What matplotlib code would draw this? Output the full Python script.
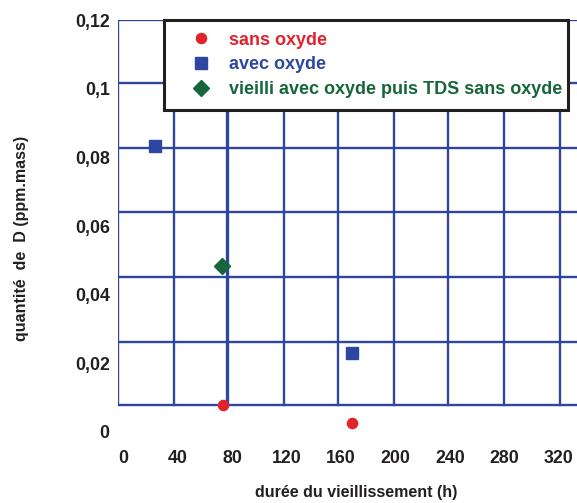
import matplotlib
matplotlib.use("Agg")
import matplotlib.pyplot as plt
from matplotlib.lines import Line2D

plt.rcParams['font.family'] = ['Liberation Sans', 'DejaVu Sans']
plt.rcParams['font.weight'] = 'bold'

# Data
sans_x = [73.6, 167.8]
sans_y = [0.0079, 0.0027]
avec_x = [23.5, 168.0]
avec_y = [0.0833, 0.0230]
vieilli_x = [72.9]
vieilli_y = [0.0484]

x_ticks = [0, 40, 80, 120, 160, 200, 240, 280, 320]
y_ticks = [0, 0.02, 0.04, 0.06, 0.08, 0.10, 0.12]
y_labels = ['0', '0,02', '0,04', '0,06', '0,08', '0,1', '0,12']

# grid as drawn in the original (offset from the tick labels)
grid_x = [-3.7, 37.4, 76.3, 118.2, 157.8, 198.9, 238.5, 279.6, 320.7]
grid_y = [0.0079, 0.0262, 0.0451, 0.0641, 0.0827, 0.1017, 0.12]

W, H = 577, 503
fig = plt.figure(figsize=(W/100, H/100), dpi=100)
ax = fig.add_axes([118/W, 1-432/H, (577-118)/W, (432-20)/H])
ax.set_xlim(-3.67, 333.2)
ax.set_ylim(0, 0.12)
for s in ax.spines.values():
    s.set_visible(False)

gcol = '#2e479c'
ymin_frac = grid_y[0] / 0.12
for i, gx in enumerate(grid_x):
    ax.axvline(gx, ymin=ymin_frac, ymax=1, color=gcol,
               lw=2.4 if i == 2 else 1.7, zorder=1)
for gy in grid_y:
    ax.axhline(gy, color=gcol, lw=1.7, zorder=1)

red = '#e1232b'
blue = '#2d47a0'
green = '#17653a'
ax.plot(sans_x, sans_y, 'o', color=red, ms=7.3, zorder=3, clip_on=False)
ax.plot(avec_x, avec_y, 's', color=blue, ms=8.3, zorder=3, clip_on=False)
ax.plot(vieilli_x, vieilli_y, 'D', color=green, ms=8.3, zorder=3, clip_on=False)

tcol = '#231f20'
ax.set_xticks(x_ticks)
ax.set_xticklabels([str(v) for v in x_ticks])
ax.set_yticks(y_ticks)
ax.set_yticklabels(y_labels)
ax.tick_params(axis='both', length=0, labelsize=12.8, colors=tcol)
ax.tick_params(axis='x', pad=13)
ax.tick_params(axis='y', pad=6)
for lab in ax.get_xticklabels() + ax.get_yticklabels():
    lab.set_fontweight('bold')

fig.text(356/W, 1-493/H, 'durée du vieillissement (h)', ha='center', va='center',
         fontsize=11.5, fontweight='bold', color=tcol)
fig.text(22/W, 1-238/H, 'quantité  de  D (ppm.mass)', ha='center', va='center',
         rotation=90, fontsize=11.5, fontweight='bold', color=tcol)

handles = [
    Line2D([], [], ls='none', marker='o', color=red, ms=7.3),
    Line2D([], [], ls='none', marker='s', color=blue, ms=8.3),
    Line2D([], [], ls='none', marker='D', color=green, ms=8.3),
]
labels = ['sans oxyde', 'avec oxyde', 'vieilli avec oxyde puis TDS sans oxyde']
leg = fig.legend(handles, labels, loc='upper left',
                 bbox_to_anchor=(164/W, 1-108/H, 404/W, 88/H),
                 bbox_transform=fig.transFigure, mode='expand',
                 borderaxespad=0, fancybox=False, framealpha=1,
                 edgecolor='#231f20', borderpad=0.65,
                 labelspacing=0.42, handlelength=2.85, handletextpad=0.1,
                 prop={'weight': 'bold', 'size': 13})
leg.get_frame().set_linewidth(2.2)
for t, c in zip(leg.get_texts(), [red, blue, green]):
    t.set_color(c)
leg.set_zorder(5)

fig.savefig('out.png', dpi=100)
